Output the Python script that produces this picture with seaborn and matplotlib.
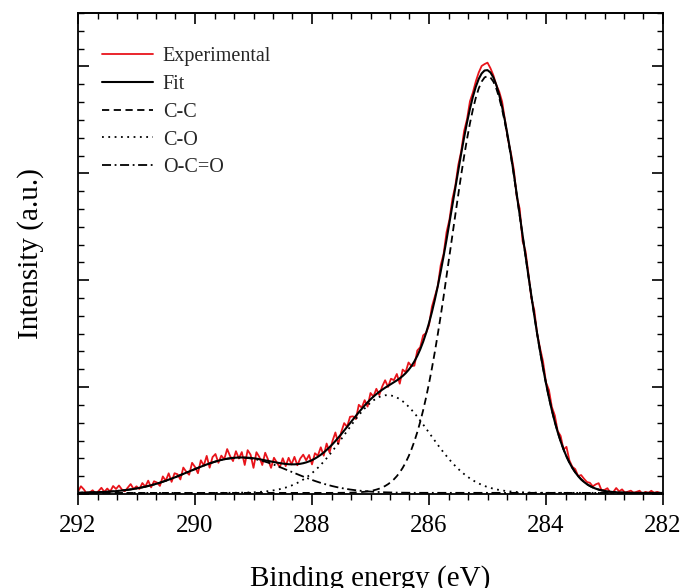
import numpy as np
import pandas as pd
import matplotlib
matplotlib.use("Agg")
import matplotlib.pyplot as plt
from matplotlib.ticker import MultipleLocator
import seaborn as sns

# ---- data ----
# binding energy grid of the measured spectrum (eV)
energy = np.round(np.arange(292.0, 281.999, -0.05), 2)

# fitted components: centre (eV), height (a.u.), FWHM (eV)
comp_names = ["C-C", "C-O", "O-C=O"]
comp_center = [285.0, 286.71, 289.23]
comp_height = [3.90, 0.915, 0.33]
comp_fwhm = [1.44, 1.70, 2.05]
baseline = 0.01

exp_residual = [
    0.01, 0.06, 0.03, -0.01, 0.00, 0.02, -0.01, 0.01, 0.04, 0.00,
    0.03, 0.00, 0.05, 0.02, 0.05, 0.01, -0.01, 0.02, 0.05, 0.00,
    0.02, -0.01, 0.04, 0.00, 0.05, -0.02, 0.03, 0.01, -0.03, 0.05,
    0.00, 0.06, -0.03, 0.04, 0.02, -0.04, 0.06, 0.01, -0.03, 0.07,
    0.02, -0.05, 0.06, 0.00, 0.08, -0.04, 0.05, 0.07, -0.02, 0.04,
    0.00, 0.09, 0.02, -0.03, 0.06, -0.01, 0.05, -0.07, 0.07, 0.03,
    -0.09, 0.06, 0.02, -0.05, 0.07, 0.01, -0.06, 0.04, 0.00, -0.04,
    0.05, -0.02, 0.06, 0.00, 0.07, -0.01, 0.05, 0.08, 0.02, 0.06,
    -0.04, 0.05, 0.01, 0.07, -0.03, 0.06, -0.05, 0.03, 0.08, -0.06,
    0.02, 0.07, 0.00, 0.06, 0.03, -0.03, 0.07, 0.01, 0.05, -0.04,
    0.06, 0.00, 0.05, -0.03, 0.03, 0.07, -0.01, 0.05, 0.02, 0.06,
    -0.05, 0.06, 0.01, 0.07, 0.00, -0.04, 0.05, 0.02, 0.06, 0.00,
    -0.02, 0.05, 0.03, 0.00, 0.06, 0.02, 0.07, 0.03, 0.06, 0.02,
    0.05, 0.02, 0.06, 0.03, 0.07, 0.04, 0.05, 0.06, 0.07, 0.06,
    0.07, 0.04, 0.02, 0.00, 0.03, 0.05, 0.01, -0.02, 0.02, 0.04,
    -0.03, 0.05, -0.06, 0.04, 0.02, -0.02, 0.05, 0.00, 0.03, 0.06,
    0.01, 0.07, 0.03, 0.06, 0.01, 0.05, 0.00, 0.09, 0.02, 0.01,
    0.03, 0.00, 0.04, 0.03, 0.02, 0.03, 0.01, 0.04, 0.06, 0.00,
    0.01, 0.03, -0.01, 0.00, 0.04, 0.01, 0.03, 0.00, 0.01, 0.02,
    0.00, 0.01, 0.02, -0.01, 0.01, 0.00, 0.02, 0.00, 0.01, 0.00,
    0.00,
]

x_ticks = [292, 290, 288, 286, 284, 282]


def gauss(x, c, h, fwhm):
    s = fwhm / (2 * np.sqrt(2 * np.log(2)))
    return h * np.exp(-0.5 * ((x - c) / s) ** 2)


comps = {n: baseline + gauss(energy, c, h, w)
         for n, c, h, w in zip(comp_names, comp_center, comp_height, comp_fwhm)}
fit = baseline + sum(gauss(energy, c, h, w)
                     for c, h, w in zip(comp_center, comp_height, comp_fwhm))
experimental = fit + np.array(exp_residual)

df = pd.DataFrame({"energy": energy, "Experimental": experimental, "Fit": fit, **comps})

# ---- style ----
sns.set_theme(style="white")
plt.rcParams["font.family"] = ["Liberation Serif", "DejaVu Serif"]
plt.rcParams["mathtext.fontset"] = "stix"

fig = plt.figure(figsize=(6.84, 5.88), dpi=100)
ax = fig.add_axes([78 / 684, 1 - 494 / 588, 585 / 684, 481 / 588])

sns.lineplot(data=df, x="energy", y="Experimental", ax=ax, color="#e8141b",
             lw=1.3, label="Experimental")
sns.lineplot(data=df, x="energy", y="Fit", ax=ax, color="black", lw=1.5, label="Fit")
sns.lineplot(data=df, x="energy", y="C-C", ax=ax, color="black", lw=1.3, label="C-C")
ax.lines[-1].set_linestyle((0, (4, 2.5)))
sns.lineplot(data=df, x="energy", y="C-O", ax=ax, color="black", lw=1.3, label="C-O")
ax.lines[-1].set_linestyle((0, (1, 2.5)))
sns.lineplot(data=df, x="energy", y="O-C=O", ax=ax, color="black", lw=1.3, label="O-C=O")
ax.lines[-1].set_linestyle((0, (5, 2, 1, 2)))

ax.set_xlim(292, 282)
ax.set_ylim(0, 4.5)
ax.set_xticks(x_ticks)
ax.xaxis.set_minor_locator(MultipleLocator(1 / 3))
ax.yaxis.set_major_locator(MultipleLocator(1))
ax.yaxis.set_minor_locator(MultipleLocator(1 / 6))
ax.set_yticklabels([])

ax.tick_params(axis="x", which="both", direction="out", bottom=True, top=False,
               labelsize=18, pad=7, colors="black")
ax.tick_params(axis="x", which="major", length=8, width=1.2)
ax.tick_params(axis="x", which="minor", length=4.5, width=1.0)
ax.tick_params(axis="y", which="both", direction="in", left=True, right=True,
               colors="black")
ax.tick_params(axis="y", which="major", length=8, width=1.2)
ax.tick_params(axis="y", which="minor", length=4.5, width=1.0)

# inward ticks on the top spine
sec = ax.secondary_xaxis("top")
sec.set_xticks(x_ticks)
sec.xaxis.set_minor_locator(MultipleLocator(1 / 3))
sec.tick_params(axis="x", which="both", direction="in", labeltop=False, colors="black")
sec.tick_params(axis="x", which="major", length=8, width=1.2)
sec.tick_params(axis="x", which="minor", length=4.5, width=1.0)
sec.spines["top"].set_linewidth(1.3)

for s in ax.spines.values():
    s.set_color("black")
    s.set_linewidth(1.3)

ax.set_xlabel("Binding energy (eV)", fontsize=21, labelpad=20, color="black")
ax.set_ylabel("Intensity (a.u.)", fontsize=21, labelpad=21, color="black")

leg = ax.legend(loc="upper left", bbox_to_anchor=(0.028, 0.947), borderaxespad=0,
                frameon=False, fontsize=14.5, handlelength=2.5, handletextpad=0.5,
                labelspacing=0.44)

fig.savefig("out.png", dpi=100)
